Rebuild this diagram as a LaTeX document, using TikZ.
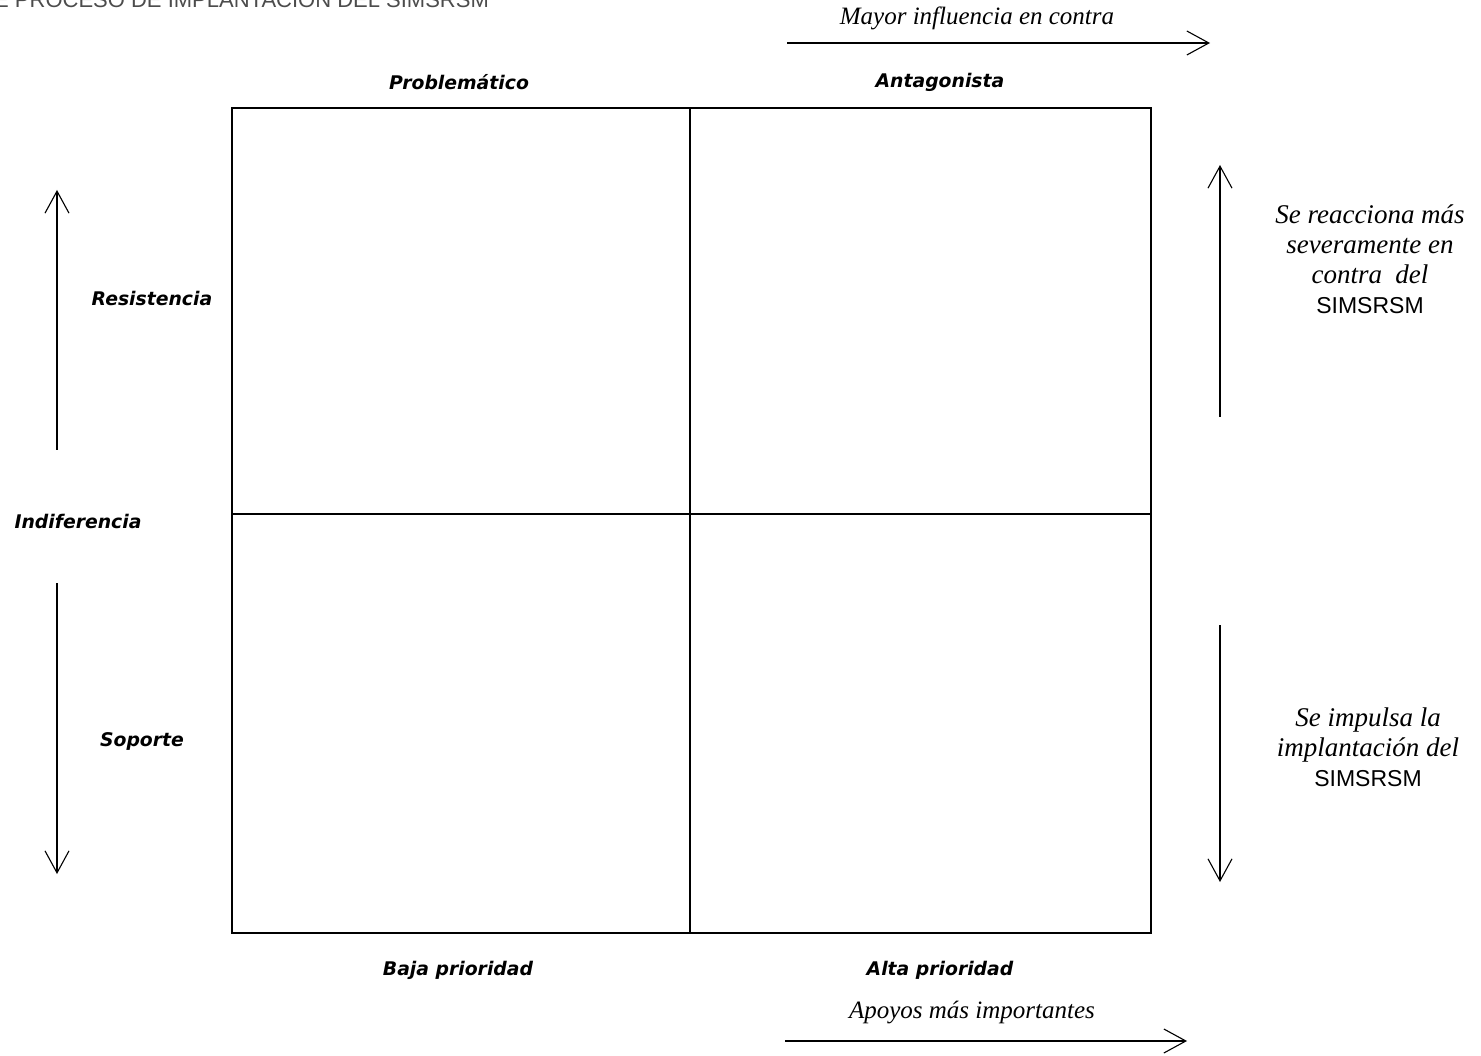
\documentclass[tikz,border=0pt]{standalone}
\usepackage{fontspec}
\setmainfont{Liberation Serif}
\setsansfont{DejaVu Sans}
\newfontfamily\arialf{Liberation Sans}
\usetikzlibrary{arrows.meta}
\tikzset{
  lbl/.style={font=\sffamily\bfseries\itshape\fontsize{18.8}{22}\selectfont, inner sep=0pt},
  srf/.style={font=\itshape\fontsize{25}{30}\selectfont, inner sep=0pt, align=center},
  srfr/.style={font=\itshape\fontsize{27}{30}\selectfont, inner sep=0pt, align=center},
  axarrow/.style={line width=1.1pt, -{Straight Barb[length=22pt,width=24pt,line width=1.1pt]}},
  thinline/.style={line width=1.1pt},
}
\begin{document}
\begin{tikzpicture}[x=1pt,y=-1pt]
\useasboundingbox (0,0) rectangle (1481,1056);
\begin{scope}
\clip (0,0) rectangle (1481,1056);
\node[anchor=base west, inner sep=0pt, text=black!70, font=\arialf\fontsize{22}{24}\selectfont] (hdr) at (-6,8) {E PROCESO DE IMPLANTACIÓN DEL SIMSRSM};
\end{scope}
% box
\coordinate (tl) at (232,108);
\coordinate (br) at (1151,933);
\coordinate (tm) at (690,108);
\coordinate (bm) at (690,933);
\coordinate (lm) at (232,514);
\coordinate (rm) at (1151,514);
\draw[line width=2.4pt] (tl) rectangle (br);
\draw[thinline] (tm) -- (bm);
\draw[thinline] (lm) -- (rm);
% top
\node[srf] (mayor) at (977,18) {Mayor influencia en contra};
\coordinate (ta1) at (787,43);
\coordinate (ta2) at (1210,43);
\draw[axarrow] (ta1) -- (ta2);
\node[lbl] (prob) at (459,82) {Problemático};
\node[lbl] (anta) at (940,82) {Antagonista};
% left
\coordinate (lu1) at (57,450);
\coordinate (lu2) at (57,190);
\draw[axarrow] (lu1) -- (lu2);
\coordinate (ld1) at (57,583);
\coordinate (ld2) at (57,874);
\draw[axarrow] (ld1) -- (ld2);
\node[lbl] (resi) at (152,298) {Resistencia};
\node[lbl] (indi) at (78,521) {Indiferencia};
\node[lbl] (sopo) at (142,741) {Soporte};
% right
\coordinate (ru1) at (1220,417);
\coordinate (ru2) at (1220,165);
\draw[axarrow] (ru1) -- (ru2);
\coordinate (rd1) at (1220,625);
\coordinate (rd2) at (1220,882);
\draw[axarrow] (rd1) -- (rd2);
\node[srfr] (reac) at (1370,259) {Se reacciona más\\severamente en\\contra\ \ del\\{\upshape\arialf\fontsize{23}{30}\selectfont SIMSRSM}};
\node[srfr] (impu) at (1368,747) {Se impulsa la\\implantación del\\{\upshape\arialf\fontsize{23}{30}\selectfont SIMSRSM}};
% bottom
\node[lbl] (baja) at (458,970) {Baja prioridad};
\node[lbl] (alta) at (940,970) {Alta prioridad};
\node[srf] (apoy) at (972,1013) {Apoyos más importantes};
\coordinate (ba1) at (785,1041);
\coordinate (ba2) at (1187,1041);
\draw[axarrow] (ba1) -- (ba2);
\end{tikzpicture}
\end{document}
